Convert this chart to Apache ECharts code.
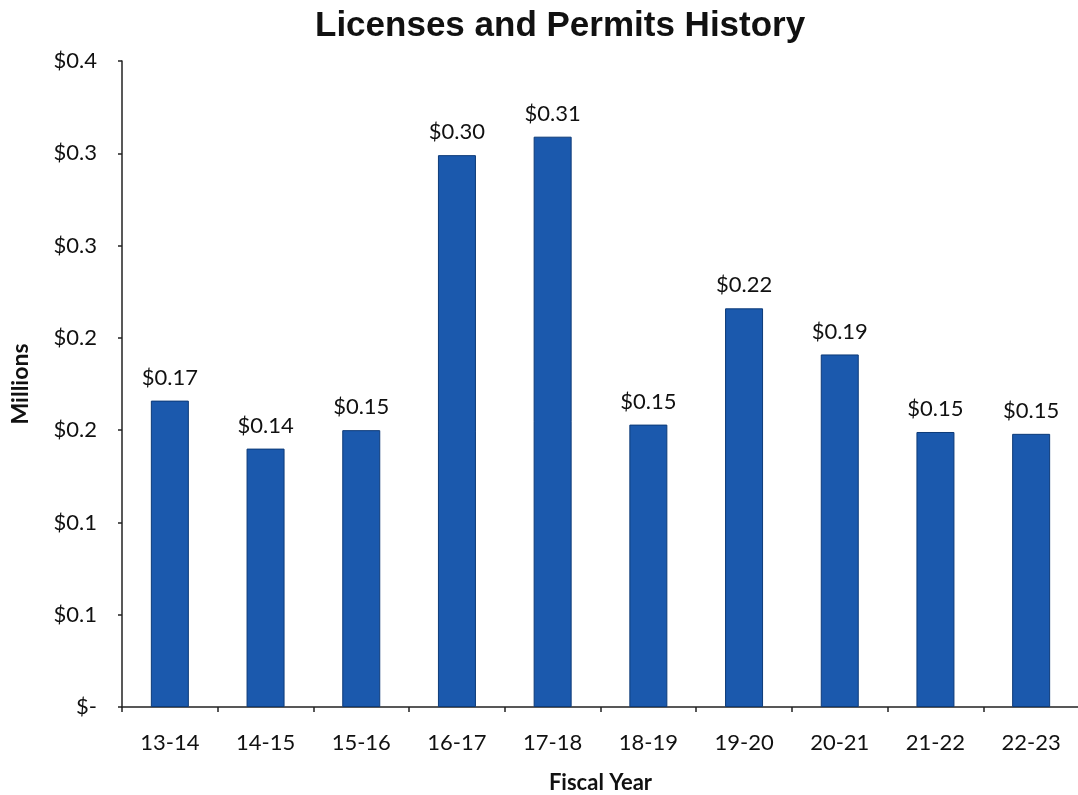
<!DOCTYPE html>
<html>
<head>
<meta charset="utf-8">
<script src="https://cdn.jsdelivr.net/npm/echarts@6/dist/echarts.min.js"></script>
<style>
  html, body { margin: 0; padding: 0; background: #ffffff; }
  #chart { width: 1078px; height: 795px; }
</style>
</head>
<body>
<div id="chart"></div>
<script>
// Fiscal years on the horizontal axis
const fiscalYears = ['13-14', '14-15', '15-16', '16-17', '17-18', '18-19', '19-20', '20-21', '21-22', '22-23'];
// Licenses and permits revenue, in millions of dollars
const revenueMillions = [0.166, 0.140, 0.150, 0.299, 0.309, 0.153, 0.216, 0.191, 0.149, 0.148];
// Value-axis labels, one per 0.05 step starting at zero
const yTickLabels = ['$-', '$0.1', '$0.1', '$0.2', '$0.2', '$0.3', '$0.3', '$0.4'];
const yStep = 0.05;

const chart = echarts.init(document.getElementById('chart'));
const textFont = 'Lato, "Open Sans", sans-serif';

chart.setOption({
  backgroundColor: '#ffffff',
  animation: false,
  title: {
    text: 'Licenses and Permits History',
    left: 310,
    top: 4,
    textStyle: {
      fontFamily: '"Liberation Sans", Arial, sans-serif',
      fontWeight: 'bold',
      fontSize: 35,
      color: '#111111'
    }
  },
  grid: { left: 122, top: 61, width: 957, bottom: 88, containLabel: false, outerBoundsMode: 'none' },
  xAxis: {
    type: 'category',
    data: fiscalYears,
    name: 'Fiscal Year',
    nameLocation: 'middle',
    nameGap: 65,
    nameTextStyle: { fontFamily: textFont, fontWeight: 'bold', fontSize: 22, color: '#111111' },
    axisLine: { lineStyle: { color: '#222222', width: 1.5 } },
    axisTick: { show: true, alignWithLabel: false, length: 5, lineStyle: { color: '#222222', width: 1.5 } },
    axisLabel: { fontFamily: textFont, fontSize: 22, color: '#111111', margin: 25 },
    splitLine: { show: false }
  },
  yAxis: {
    type: 'value',
    min: 0,
    max: 0.35,
    interval: yStep,
    name: 'Millions',
    nameLocation: 'middle',
    nameGap: 90,
    nameRotate: 90,
    nameTextStyle: { fontFamily: textFont, fontWeight: 'bold', fontSize: 23, color: '#111111' },
    axisLine: { show: true, lineStyle: { color: '#222222', width: 1.5 } },
    axisTick: { show: true, length: 4, lineStyle: { color: '#222222', width: 1.5 } },
    axisLabel: {
      fontFamily: textFont,
      fontSize: 22,
      color: '#111111',
      margin: 25,
      formatter: function (v) { return yTickLabels[Math.round(v / yStep)]; }
    },
    splitLine: { show: false }
  },
  series: [{
    type: 'bar',
    data: revenueMillions,
    barWidth: 38,
    itemStyle: { color: '#1B59AD', borderColor: '#0C3A78', borderWidth: 1 },
    label: {
      show: true,
      position: 'top',
      distance: 12,
      fontFamily: textFont,
      fontSize: 22,
      color: '#111111',
      formatter: function (p) { return '$' + p.value.toFixed(2); }
    }
  }]
});
</script>
</body>
</html>
